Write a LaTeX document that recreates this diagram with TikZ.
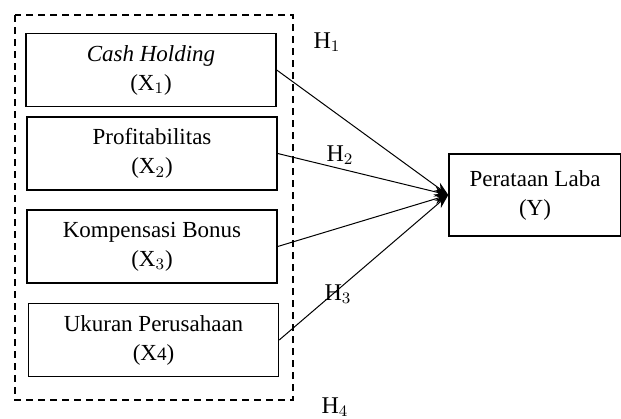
\documentclass[tikz,border=0pt]{standalone}
\usepackage{fontspec}
\setmainfont{Liberation Serif}
\usetikzlibrary{arrows.meta}

\begin{document}
\begin{tikzpicture}[x=0.5pt,y=-0.5pt,
  every node/.style={font=\fontsize{11.5}{14.5}\selectfont,inner sep=0pt},
  varbox/.style={draw,line width=0.7pt,minimum width=125pt,minimum height=36.5pt,align=center},
  hlabel/.style={font=\fontsize{12}{14}\selectfont},
  arr/.style={-{Stealth[length=7pt,width=5pt]},line width=0.5pt}
]
\useasboundingbox (0,0) rectangle (621,418);
% group of independent variables
\draw[dashed,dash pattern=on 3.5pt off 2.5pt,line width=0.7pt] (15,15) rectangle (293,400);
\node[varbox] (x1) at (151,70) {\textit{Cash Holding}\\(X$_1$)};
\node[varbox] (x2) at (152,153.5) {Profitabilitas\\(X$_2$)};
\node[varbox] (x3) at (152,246.5) {Kompensasi Bonus\\(X$_3$)};
\node[varbox] (x4) at (153.5,340) {Ukuran Perusahaan\\(X{\fontsize{9.5}{10}\selectfont 4})};
% dependent variable
\node[varbox,minimum width=86pt,minimum height=41pt] (y) at (535,195) {Perataan Laba\\(Y)};
% hypotheses
\draw[arr] (x1.east) -- (y.west);
\draw[arr] (x2.east) -- (y.west);
\draw[arr] (x3.east) -- (y.west);
\draw[arr] (x4.east) -- (y.west);
\node[hlabel] (h1) at (327,42) {H$_1$};
\node[hlabel] (h2) at (340,155) {H$_2$};
\node[hlabel] (h3) at (338,294) {H$_3$};
\node[hlabel] (h4) at (335,407) {H$_4$};
\end{tikzpicture}
\end{document}
